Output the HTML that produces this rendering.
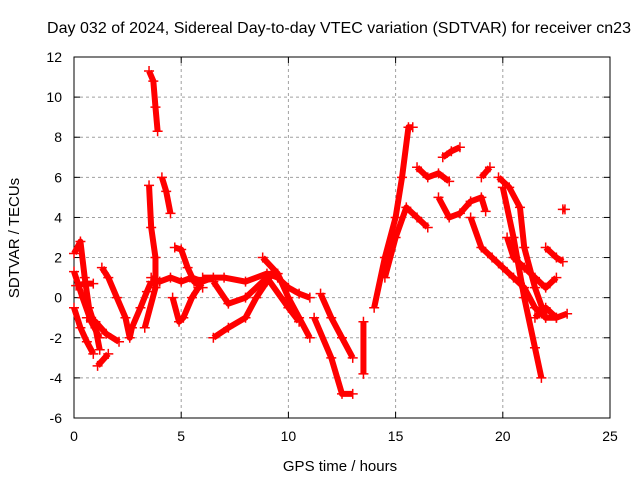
<!DOCTYPE html>
<html><head><meta charset="utf-8"><style>
body{margin:0;background:#fff}
svg{display:block;font-family:"Liberation Sans",sans-serif}
</style></head><body>
<svg id="chart" width="640" height="480">
<text x="339" y="33" font-size="16" text-anchor="middle" textLength="584">Day 032 of 2024, Sidereal Day-to-day VTEC variation (SDTVAR) for receiver cn23</text>
<text x="340" y="471" font-size="15" text-anchor="middle">GPS time / hours</text>
<text transform="translate(19,238) rotate(-90)" font-size="15" text-anchor="middle">SDTVAR / TECUs</text>
<g id="grid"></g><g id="axes"></g><g id="marks"></g>
</svg>
<script>
const xTicks=[0,5,10,15,20,25];
const yTicks=[-6,-4,-2,0,2,4,6,8,10,12];
const traceA=[[0,2.2],[0.3,2.8],[0.5,1],[0.7,-0.5],[1,-1.5],[1.2,-2.6]];
const traceB=[[0,1.3],[0.4,0],[0.8,-1.2],[1.2,-2]];
const traceC=[[0,-0.5],[0.3,-1.5],[0.6,-2.2],[0.9,-2.8]];
const traceD=[[0.1,0.6],[0.5,0.7],[0.9,0.7]];
const traceE=[[1.1,-3.4],[1.6,-2.8]];
const traceF=[[1.3,1.5],[1.6,1],[2,0],[2.4,-1],[2.6,-2],[2.7,-1.5],[3.1,-0.5],[3.4,0.3],[3.6,0.8]];
const traceG=[[0.6,-1],[1,-1.2],[1.5,-1.8],[2.1,-2.2]];
const traceH=[[3.5,11.3],[3.7,10.8],[3.8,9.5],[3.9,8.3]];
const traceI=[[4.1,6],[4.3,5.3],[4.5,4.2]];
const traceJ=[[3.5,5.6],[3.6,3.5],[3.8,2],[3.8,0.5],[3.3,-1.5]];
const traceK=[[3.6,1],[4,0.8],[4.5,1],[5,0.8],[5.5,1],[6,0.8],[6.5,1]];
const traceL=[[4.7,2.5],[5,2.4],[5.3,1.5],[5.6,0.8],[6,0.5]];
const traceM=[[4.6,0],[4.9,-1.2],[5.1,-1],[5.5,0],[5.8,0.5]];
const traceN=[[6.5,-2],[7.2,-1.5],[8,-1],[8.5,0],[9,0.8],[9.3,1.3]];
const traceO=[[6,1],[7,1],[8,0.8],[9,1.2],[9.5,1],[10,0.5],[10.5,0.2],[11,0]];
const traceP=[[8.8,2],[9.5,1.2],[10,0],[10.5,-1],[11,-2]];
const traceQ=[[6.5,0.8],[7.2,-0.3],[8,0],[9,1],[10,-0.5],[10.5,-1.2]];
const traceR=[[11.2,-1],[12,-3],[12.5,-4.8],[13,-4.8]];
const traceS=[[11.5,0.2],[12,-1],[12.5,-2],[13,-3]];
const traceT=[[13.5,-1.2],[13.5,-3.8]];
const traceU=[[14,-0.5],[14.5,2],[15,4],[15.3,6],[15.6,8.5],[15.8,8.5]];
const traceV=[[14.5,1],[15,3],[15.5,4.5],[16,4],[16.5,3.5]];
const traceW=[[16,6.5],[16.5,6],[17,6.2],[17.5,5.8]];
const traceX=[[17.2,7],[17.6,7.3],[18,7.5]];
const traceY=[[17,5],[17.5,4],[18,4.2],[18.5,4.8],[19,5],[19.2,4.3]];
const traceZ=[[19,6],[19.4,6.5]];
const traceR1=[[18.5,4],[19,2.5],[19.5,2],[20,1.5],[20.5,1],[21,0.5],[21.5,-0.5],[22,-1]];
const traceR2=[[19.8,6],[20.3,5.5],[20.8,4.5],[21,2.5],[21.5,0.5],[22,-1],[22.5,-1]];
const traceR3=[[20,5.5],[20.5,3],[21,0],[21.5,-2.5],[21.8,-4]];
const traceR4=[[20.2,3],[20.5,2],[21,1.5],[21.5,1],[22,0.5],[22.5,1]];
const traceR5=[[22,2.5],[22.5,2],[22.8,1.8]];
const traceR6=[[22.8,4.4],[22.9,4.4]];
const traceR7=[[21.5,-1],[22,-0.5],[22.5,-1],[23,-0.8]];
const traces=[traceA,traceB,traceC,traceD,traceE,traceF,traceG,traceH,traceI,traceJ,traceK,traceL,traceM,traceN,traceO,traceP,traceQ,traceR,traceS,traceT,traceU,traceV,traceW,traceX,traceY,traceZ,traceR1,traceR2,traceR3,traceR4,traceR5,traceR6,traceR7];

const X0=74,X1=610,Y0=418,Y1=57;
const sx=t=>X0+(t-0)/(25-0)*(X1-X0);
const sy=v=>Y0-(v+6)/(18)*(Y0-Y1);
const NS="http://www.w3.org/2000/svg";
const mk=(tag,parent,attrs)=>{const e=document.createElementNS(NS,tag);for(const k in attrs)e.setAttribute(k,attrs[k]);parent.appendChild(e);return e;};
const grid=document.getElementById('grid'),axes=document.getElementById('axes'),marks=document.getElementById('marks');
xTicks.forEach(t=>{
  if(t>0&&t<25){const g=mk('line',grid,{x1:sx(t),x2:sx(t),y1:Y1,y2:Y0,stroke:'#a0a0a0','stroke-dasharray':'3,3'});
  
  }
  const l=mk('text',axes,{x:sx(t),y:Y0+23,'font-size':14,'text-anchor':'middle'});l.textContent=t;
  
  
  mk('line',axes,{x1:sx(t),x2:sx(t),y1:Y0,y2:Y0-6,stroke:'#000'});
  mk('line',axes,{x1:sx(t),x2:sx(t),y1:Y1,y2:Y1+6,stroke:'#000'});
});
yTicks.forEach(v=>{
  if(v>-6&&v<12){const g=mk('line',grid,{x1:X0,x2:X1,y1:sy(v),y2:sy(v),stroke:'#a0a0a0','stroke-dasharray':'3,3'});
  
  }
  const l=mk('text',axes,{x:X0-12,y:sy(v)+5,'font-size':14,'text-anchor':'end'});l.textContent=v;
  
  
  mk('line',axes,{x1:X0,x2:X0+6,y1:sy(v),y2:sy(v),stroke:'#000'});
  mk('line',axes,{x1:X1,x2:X1-6,y1:sy(v),y2:sy(v),stroke:'#000'});
});
const frame=mk('rect',axes,{x:X0,y:Y1,width:X1-X0,height:Y0-Y1,fill:'none',stroke:'#000'});


traces.forEach(tr=>{
  const pl=mk('polyline',marks,{points:tr.map(p=>sx(p[0])+','+sy(p[1])).join(' '),fill:'none',stroke:'#ff0000','stroke-width':6,'stroke-linejoin':'round'});
  
  
  tr.forEach(p=>{
    const x=sx(p[0]),y=sy(p[1]);
    const m=mk('path',marks,{d:`M${x-5},${y}H${x+5}M${x},${y-5}V${y+5}`,stroke:'#ff0000','stroke-width':1.5});
    
    
  });
});
</script>
</body></html>
